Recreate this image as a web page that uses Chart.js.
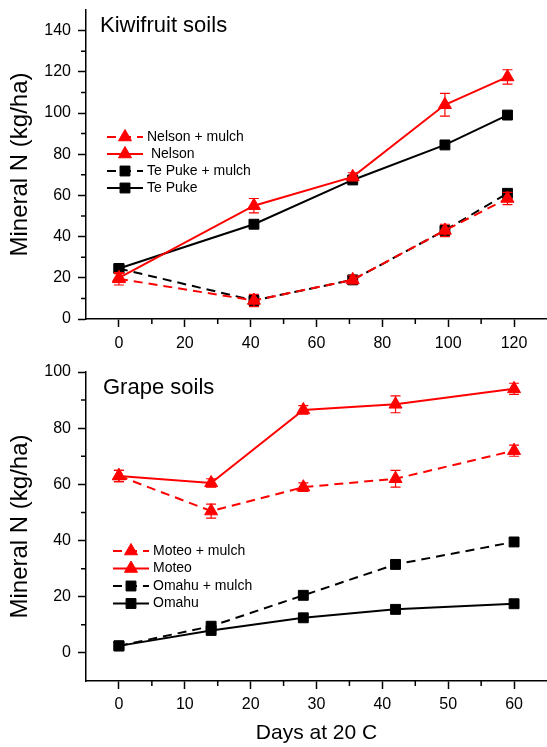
<!DOCTYPE html>
<html>
<head>
<meta charset="utf-8">
<title>Mineral N</title>
<script src="https://cdn.jsdelivr.net/npm/chart.js"></script>
<style>
  body { margin:0; background:#fff; }
  #wrap { position:relative; width:547px; height:747px; }
  canvas { position:absolute; left:0; }
  #top { top:0; }
  #bot { top:355px; }
</style>
</head>
<body>
<div id="wrap">
  <canvas id="top" width="547" height="355"></canvas>
  <canvas id="bot" width="547" height="392"></canvas>
</div>
<script>
// kiwifruit soils
const kiwiDays = [0, 41, 71, 99, 118];
const nelsonMulch = [19.5, 9, 19, 43, 58.5];
const nelsonMulchErr = [3, 3, 2, 3, 3];
const nelson = [20, 55, 69, 104, 117.5];
const nelsonErr = [2, 3.5, 2, 5.5, 3.5];
const tePukeMulch = [24.5, 9, 19, 43, 61];
const tePuke = [24.5, 46, 67.5, 84.5, 99];
const kiwiXTicks = [0, 20, 40, 60, 80, 100, 120];
const kiwiXMinor = [10, 30, 50, 70, 90, 110];
const kiwiYTicks = [0, 20, 40, 60, 80, 100, 120, 140];
const kiwiYMinor = [10, 30, 50, 70, 90, 110, 130];

// grape soils
const grapeDays = [0, 14, 28, 42, 60];
const moteoMulch = [63, 50.5, 59, 62, 72];
const moteoMulchErr = [2, 2.5, 1.5, 3, 2];
const moteo = [63, 60.5, 86.5, 88.5, 94];
const moteoErr = [2, 1.5, 1.5, 3, 2];
const omahuMulch = [2.5, 9.5, 20.5, 31.5, 39.5];
const omahu = [2.5, 8, 12.5, 15.5, 17.5];
const grapeXTicks = [0, 10, 20, 30, 40, 50, 60];
const grapeXMinor = [5, 15, 25, 35, 45, 55];
const grapeYTicks = [0, 20, 40, 60, 80, 100];
const grapeYMinor = [10, 30, 50, 70, 90];

const FAM = 'Arial, "Liberation Sans", Helvetica, sans-serif';
Chart.defaults.font.family = FAM;
Chart.defaults.color = '#000';

function series(label, xs, ys, color, dashed, shape, errs) {
  return {
    label, errors: errs || null,
    data: xs.map((x, i) => ({x, y: ys[i]})),
    borderColor: color, backgroundColor: color,
    borderWidth: 2, borderDash: dashed ? [9, 6] : [],
    pointStyle: shape, pointRadius: shape === 'triangle' ? 7.5 : 7,
    pointBorderWidth: 1, pointBackgroundColor: color, pointBorderColor: color
  };
}

function axis(min, max, major, o) {
  return {
    type: 'linear', min, max,
    afterBuildTicks: s => { s.ticks = major.map(v => ({value: v})); },
    afterFit: s => {
      if (o.w) s.width = o.w;
      if (o.h) s.height = o.h;
      s.paddingLeft = s.paddingRight = s.paddingTop = s.paddingBottom = 0;
    },
    ticks: { font: {size: 16}, color: '#000', padding: o.pad, maxRotation: 0, autoSkip: false,
             callback: v => String(v) },
    grid: { drawOnChartArea: false, drawTicks: true, tickLength: 8, tickWidth: 1.5, tickColor: '#000' },
    border: { display: true, color: '#000', width: 1.5 },
    title: o.title || { display: false }
  };
}

// error bars, minor ticks, panel label and legend
function decor(c) {
  return {
    id: 'decor',
    afterDatasetsDraw(chart) {
      const ctx = chart.ctx, ys = chart.scales.y;
      chart.data.datasets.forEach((ds, i) => {
        if (!ds.errors) return;
        const meta = chart.getDatasetMeta(i);
        ctx.save();
        ctx.strokeStyle = ds.borderColor; ctx.lineWidth = 1.2;
        meta.data.forEach((pt, j) => {
          const v = ds.data[j].y, e = ds.errors[j];
          const y1 = ys.getPixelForValue(v + e), y2 = ys.getPixelForValue(v - e);
          ctx.beginPath();
          ctx.moveTo(pt.x, y1); ctx.lineTo(pt.x, y2);
          ctx.moveTo(pt.x - 5, y1); ctx.lineTo(pt.x + 5, y1);
          ctx.moveTo(pt.x - 5, y2); ctx.lineTo(pt.x + 5, y2);
          ctx.stroke();
        });
        ctx.restore();
      });
    },
    afterDraw(chart) {
      const ctx = chart.ctx, a = chart.chartArea;
      const xs = chart.scales.x, ys = chart.scales.y;
      ctx.save();
      ctx.strokeStyle = '#000'; ctx.lineWidth = 1.5;
      ctx.beginPath();
      c.minorX.forEach(v => { const p = xs.getPixelForValue(v); ctx.moveTo(p, a.bottom); ctx.lineTo(p, a.bottom + 5); });
      c.minorY.forEach(v => { const p = ys.getPixelForValue(v); ctx.moveTo(a.left - 5, p); ctx.lineTo(a.left, p); });
      ctx.stroke();

      ctx.fillStyle = '#000';
      ctx.font = '22px ' + FAM;
      ctx.textBaseline = 'alphabetic';
      ctx.fillText(c.title, c.tx, c.ty);

      ctx.font = '14px ' + FAM;
      ctx.textBaseline = 'middle';
      chart.data.datasets.forEach((ds, i) => {
        const y = c.ly + i * c.gap;
        ctx.strokeStyle = ds.borderColor; ctx.lineWidth = 2;
        ctx.setLineDash(ds.borderDash);
        ctx.beginPath(); ctx.moveTo(c.lx, y); ctx.lineTo(c.lx + 36, y); ctx.stroke();
        ctx.setLineDash([]);
        ctx.fillStyle = ds.pointBackgroundColor; ctx.lineWidth = 1;
        Chart.helpers.drawPoint(ctx, {pointStyle: ds.pointStyle, radius: ds.pointRadius, rotation: 0, borderWidth: 1}, c.lx + 18, y);
        ctx.fillStyle = '#000';
        ctx.fillText(ds.label, c.lx + 40, y);
      });
      ctx.restore();
    }
  };
}

const yTitle = { display: true, text: 'Mineral N (kg/ha)', font: {size: 24}, color: '#000', padding: {top: 6, bottom: 0} };
const baseOpts = { responsive: false, animation: false, events: [],
  plugins: { legend: {display: false}, tooltip: {enabled: false} } };

new Chart(document.getElementById('top'), {
  type: 'line',
  data: { datasets: [
    series('Nelson + mulch', kiwiDays, nelsonMulch, '#ff0000', true, 'triangle', nelsonMulchErr),
    series(' Nelson', kiwiDays, nelson, '#ff0000', false, 'triangle', nelsonErr),
    series('Te Puke + mulch', kiwiDays, tePukeMulch, '#000000', true, 'rect'),
    series('Te Puke', kiwiDays, tePuke, '#000000', false, 'rect')
  ]},
  options: Object.assign({}, baseOpts, {
    layout: { autoPadding: false, padding: {top: 10, left: 0, right: 0, bottom: 0} },
    scales: {
      x: axis(-10, 130, kiwiXTicks, {h: 36, pad: 7}),
      y: axis(0, 150, kiwiYTicks, {w: 86, pad: 7, title: yTitle})
    }
  }),
  plugins: [decor({minorX: kiwiXMinor, minorY: kiwiYMinor, title: 'Kiwifruit soils', tx: 100, ty: 32, lx: 107, ly: 137, gap: 17})]
});

new Chart(document.getElementById('bot'), {
  type: 'line',
  data: { datasets: [
    series('Moteo + mulch', grapeDays, moteoMulch, '#ff0000', true, 'triangle', moteoMulchErr),
    series('Moteo', grapeDays, moteo, '#ff0000', false, 'triangle', moteoErr),
    series('Omahu + mulch', grapeDays, omahuMulch, '#000000', true, 'rect'),
    series('Omahu', grapeDays, omahu, '#000000', false, 'rect')
  ]},
  options: Object.assign({}, baseOpts, {
    layout: { autoPadding: false, padding: {top: 17, left: 0, right: 0, bottom: 0} },
    scales: {
      x: axis(-5, 65, grapeXTicks, {h: 66, pad: 6,
        title: { display: true, text: 'Days at 20 C', font: {size: 21}, color: '#000', padding: {top: 0, bottom: 1} }}),
      y: axis(-10, 100, grapeYTicks, {w: 86, pad: 7, title: yTitle})
    }
  }),
  plugins: [decor({minorX: grapeXMinor, minorY: grapeYMinor, title: 'Grape soils', tx: 103, ty: 38.5, lx: 113, ly: 196, gap: 17.5})]
});
</script>
</body>
</html>
